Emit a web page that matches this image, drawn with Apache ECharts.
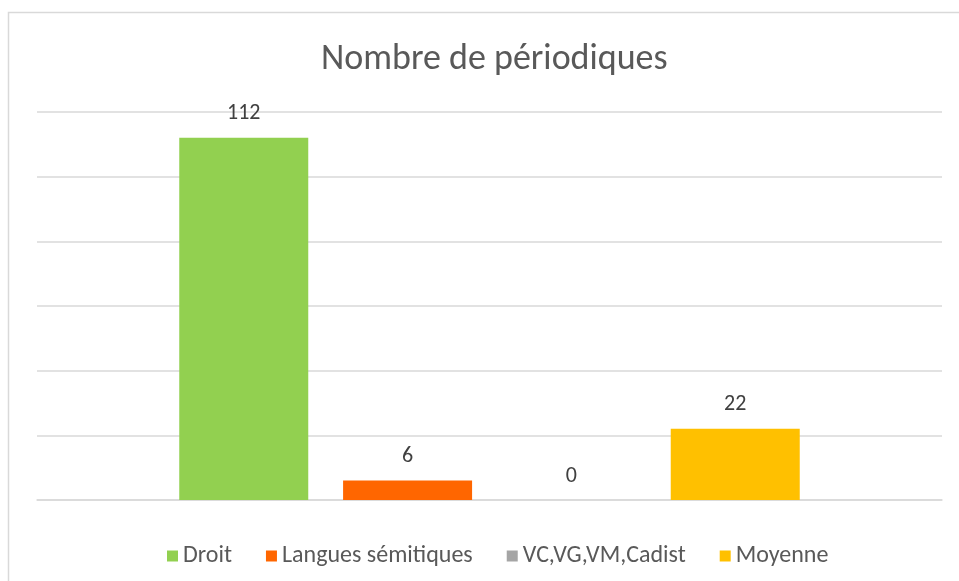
<!DOCTYPE html>
<html>
<head>
    <meta charset="utf-8">
    <title>Nombre de périodiques</title>
    <script src="https://cdn.jsdelivr.net/npm/echarts@6/dist/echarts.min.js"></script>
</head>
<body style="margin:0">
    <div id="main" style="height: 581px; width: 959px;"></div>
    <script type="text/javascript">
    var categories = [''];
    var seriesNames = ['Droit', 'Langues sémitiques', 'VC,VG,VM,Cadist', 'Moyenne'];
    var seriesValues = [112, 6, 0, 22];
    var seriesColors = ['#92d050', '#ff6600', '#a5a5a5', '#ffc000'];

    var font = 'Carlito, "Liberation Sans Narrow", "Noto Sans", sans-serif';
    var myChart = echarts.init(document.getElementById('main'));
    var series = seriesNames.map(function(name, i) {
        return {
            name: name,
            type: 'bar',
            data: [seriesValues[i]],
            barWidth: 129,
            barGap: '27%',
            itemStyle: { color: seriesColors[i] },
            label: {
                show: true,
                position: 'top',
                distance: 13,
                color: '#404040',
                fontSize: 22,
                fontFamily: font
            }
        };
    });
    var option = {
        animation: false,
        backgroundColor: '#fff',
        title: {
            text: 'Nombre de périodiques',
            left: 316,
            top: 37,
            textStyle: { color: '#595959', fontSize: 36, fontWeight: 'normal', fontFamily: font }
        },
        legend: {
            top: 539,
            left: 162,
            itemWidth: 11,
            itemHeight: 11,
            itemGap: 34,
            icon: 'rect',
            textStyle: { color: '#595959', fontSize: 24, fontFamily: font }
        },
        graphic: [{
            type: 'rect',
            shape: { x: 8.5, y: 12.5, width: 1000, height: 1000 },
            style: { fill: 'none', stroke: '#d9d9d9', lineWidth: 1.5 }
        }],
        grid: { left: 37, right: 17, top: 112, bottom: 81 },
        xAxis: {
            type: 'category',
            data: categories,
            axisLine: { lineStyle: { color: '#d9d9d9', width: 1.5 } },
            axisTick: { show: false },
            axisLabel: { show: false }
        },
        yAxis: {
            type: 'value',
            min: 0,
            max: 120,
            interval: 20,
            axisLabel: { show: false },
            axisLine: { show: false },
            axisTick: { show: false },
            splitLine: { lineStyle: { color: '#d9d9d9', width: 1.5 } }
        },
        series: series
    };
    myChart.setOption(option);
    </script>
</body>
</html>
